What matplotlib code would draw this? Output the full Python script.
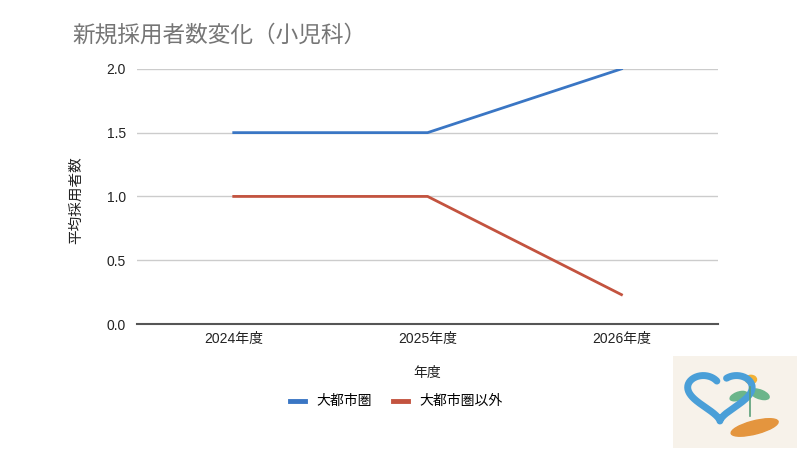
import numpy as np
import matplotlib
matplotlib.use('Agg')
import matplotlib.pyplot as plt
from matplotlib.patches import Ellipse, Circle, Rectangle

plt.rcParams['font.family'] = ['Liberation Sans', 'Noto Sans CJK JP', 'DejaVu Sans']

# data
years = ['2024年度', '2025年度', '2026年度']
metro = [1.5, 1.5, 2.0]
non_metro = [1.0, 1.0, 0.23]
series_names = ['大都市圏', '大都市圏以外']
colors = ['#3a76c4', '#c3533f']
yticks = [0.0, 0.5, 1.0, 1.5, 2.0]

fig = plt.figure(figsize=(8, 4.5), dpi=100)
ax = fig.add_axes([0.171, 0.28, 0.727, 0.567])

x = np.arange(len(years))
ax.plot(x, metro, color=colors[0], lw=2, label=series_names[0])
ax.plot(x, non_metro, color=colors[1], lw=2, label=series_names[1])

ax.set_xlim(-0.5, len(years) - 0.5)
ax.set_ylim(0, 2.0)
ax.set_yticks(yticks)
ax.set_yticklabels([f'{v:.1f}' for v in yticks])
ax.set_xticks(x)
ax.set_xticklabels(years)
ax.tick_params(axis='both', length=0, labelsize=10, colors='#222222')
ax.tick_params(axis='y', pad=8)
ax.tick_params(axis='x', pad=6)
ax.grid(axis='y', color='#cccccc', lw=1)
ax.set_axisbelow(True)
for s in ['top', 'right', 'left']:
    ax.spines[s].set_visible(False)
ax.spines['bottom'].set_color('#555555')
ax.spines['bottom'].set_linewidth(1.5)
ax.spines['bottom'].set_zorder(3)

ax.set_xlabel('年度', fontsize=10, color='#222222', labelpad=14)
ax.set_ylabel('平均採用者数', fontsize=10.5, color='#222222')
ax.yaxis.set_label_coords(-0.093, 0.487)

fig.text(0.091, 0.922, '新規採用者数変化（小児科）', fontsize=16.3, color='#757575',
         va='center', ha='left')

fig.legend(loc='center', bbox_to_anchor=(0.495, 0.108), ncol=2, frameon=False,
           fontsize=10, handlelength=1.1, handletextpad=0.8, columnspacing=1.5)
for line in fig.legends[0].get_lines():
    line.set_linewidth(3.5)

# small logo in the bottom right corner
lax = fig.add_axes([0.841, 0.005, 0.155, 0.205])
lax.set_xlim(0, 10)
lax.set_ylim(0, 10)
lax.axis('off')
lax.add_patch(Rectangle((0, 0), 10, 10, color='#f7f2ea'))
t = np.linspace(0, 2 * np.pi, 200)
hx = 5 + 2.6 * np.sin(t) ** 3
hy = 5.2 + 2.2 * np.cos(t) - 0.9 * np.cos(2 * t) - 0.35 * np.cos(3 * t) - 0.15 * np.cos(4 * t)
lax.plot(hx[20:185] - 1.2, hy[20:185] + 0.6, color='#4a9fd8', lw=5, solid_capstyle='round')
lax.add_patch(Circle((6.3, 7.4), 0.45, color='#f2b134'))
lax.add_patch(Ellipse((5.3, 5.6), 1.5, 0.8, angle=30, color='#6bb58a'))
lax.add_patch(Ellipse((7.0, 5.8), 1.7, 0.9, angle=-30, color='#6bb58a'))
lax.plot([6.2, 6.2], [3.4, 6.6], color='#5aa078', lw=1.2)
lax.add_patch(Ellipse((6.6, 2.2), 4.0, 1.4, angle=20, color='#e4953e'))

fig.savefig('out.png', dpi=100)
